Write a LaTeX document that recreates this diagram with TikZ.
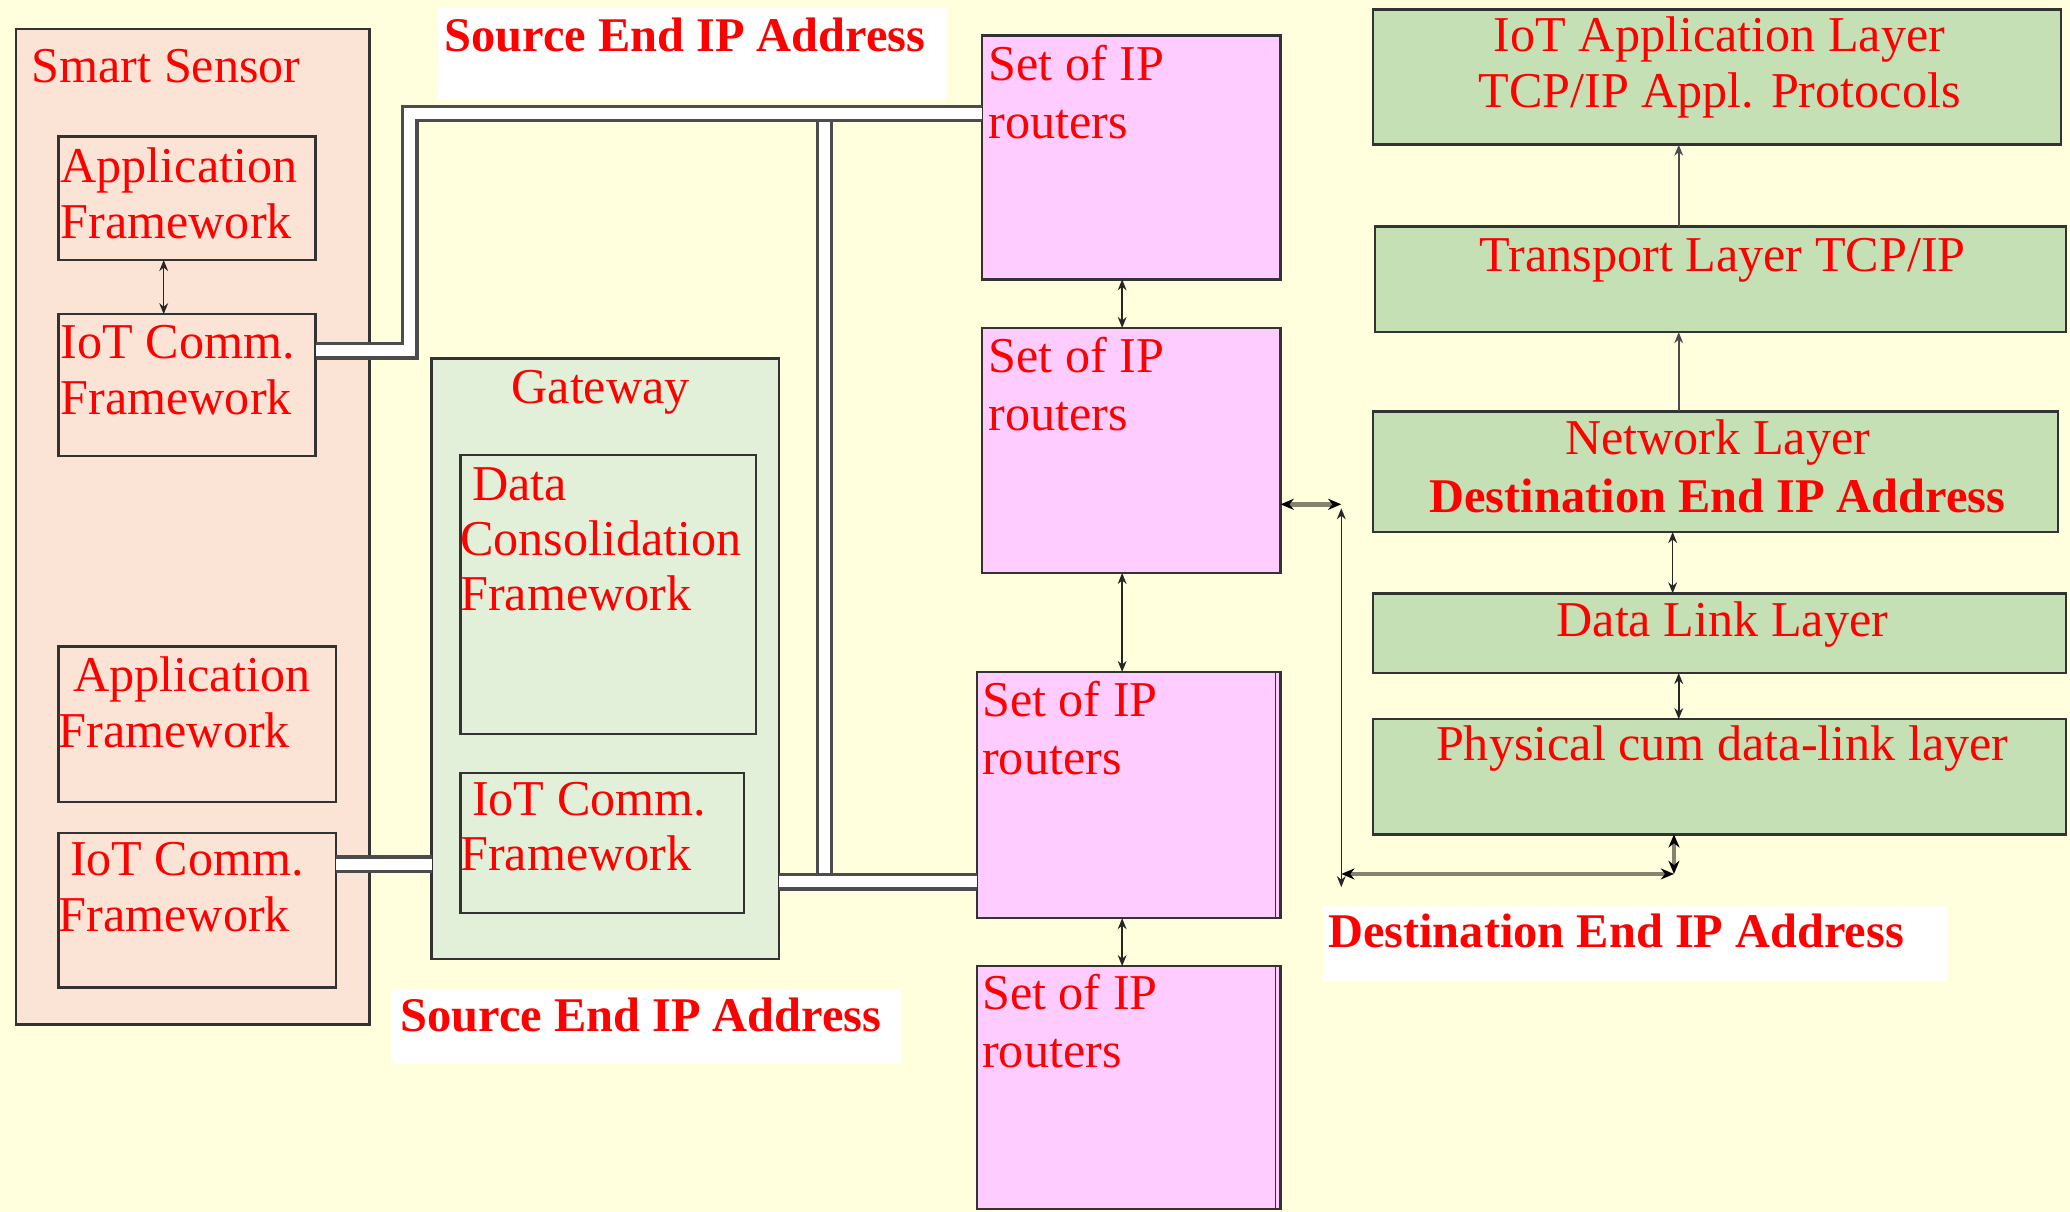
\documentclass[tikz,border=0pt]{standalone}
\usepackage{fontspec}
\setmainfont{Liberation Serif}
\usetikzlibrary{arrows.meta}
\definecolor{bgyel}{HTML}{FFFFDD}
\definecolor{peach}{HTML}{FBE4D5}
\definecolor{gwgreen}{HTML}{E2EFD9}
\definecolor{laygreen}{HTML}{C5E0B4}
\definecolor{pinkr}{HTML}{FFCCFF}
\definecolor{edgec}{HTML}{333333}
\definecolor{connc}{HTML}{84846E}
\newcommand\mkbox[6]{\node[#2, anchor=north west, minimum width={(#5-#3)*0.6pt}, minimum height={(#6-#4)*0.6pt}] (#1) at (#3,#4) {};}
\begin{document}
\begin{tikzpicture}[x=0.6pt, y=-0.6pt,
 box/.style={draw=edgec, line width=1.1pt, inner sep=0pt, outer sep=0pt},
 ssbox/.style={box, fill=peach},
 gwbox/.style={box, fill=gwgreen},
 rtbox/.style={box, fill=pinkr},
 lybox/.style={box, fill=laygreen},
 wbox/.style={fill=white, inner sep=0pt, outer sep=0pt},
 txt/.style={text=red, inner sep=0pt, outer sep=0pt, align=left, anchor=north west, font=\fontsize{22.8}{25.2}\selectfont},
 ctxt/.style={txt, align=center, anchor=north},
 btxt/.style={txt, font=\fontsize{22}{25.2}\selectfont\bfseries},
 pipe/.style={draw=black!70, line width=1.5pt, double=white, double distance=5pt},
 dar/.style={draw=black!85, line width=0.7pt, {Stealth[length=5pt,width=4pt]}-{Stealth[length=5pt,width=4pt]}},
 uar/.style={draw=black!70, line width=0.7pt, -{Stealth[length=5pt,width=4pt]}},
 gar/.style={draw=connc, line width=2pt, {Stealth[length=6pt,width=5pt,color=black]}-{Stealth[length=6pt,width=5pt,color=black]}},
]
\useasboundingbox (0,0) rectangle (1568,918);
\fill[bgyel] (0,0) rectangle (1568,918);

% boxes
\mkbox{ss}{ssbox}{12}{22}{280}{776}
\mkbox{app1}{ssbox}{44.4}{103.5}{239}{197}
\mkbox{iot1}{ssbox}{44.4}{238}{239}{345.4}
\mkbox{app2}{ssbox}{44.4}{489.6}{254.6}{607.7}
\mkbox{iot2}{ssbox}{44.4}{631}{254.6}{748}
\mkbox{gw}{gwbox}{327}{271.4}{590}{726.6}
\mkbox{dcf}{gwbox}{348.8}{344.7}{572.5}{556}
\mkbox{giot}{gwbox}{348.8}{585.4}{563.7}{691.4}
\mkbox{r1}{rtbox}{744}{27}{970}{211.6}
\mkbox{r2}{rtbox}{744}{248.4}{970}{434}
\mkbox{r3}{rtbox}{740}{509}{970}{695.5}
\mkbox{r4}{rtbox}{740}{731.8}{970}{916}
\mkbox{l1}{lybox}{1040}{7.3}{1561}{109.6}
\mkbox{l2}{lybox}{1041.6}{171.6}{1565}{251.6}
\mkbox{l3}{lybox}{1040}{311.6}{1559}{403}
\mkbox{l4}{lybox}{1040}{449.4}{1565}{509.8}
\mkbox{l5}{lybox}{1040}{544.7}{1565}{632}
\mkbox{w1}{wbox}{331.4}{6.3}{717}{76}
\mkbox{w2}{wbox}{296}{750}{682.7}{806}
\mkbox{w3}{wbox}{1002}{686.5}{1475}{744}
\draw[edgec, line width=0.6pt] ([xshift=-2.4pt]r3.north east) -- ([xshift=-2.4pt]r3.south east);
\draw[edgec, line width=0.6pt] ([xshift=-2.4pt]r4.north east) -- ([xshift=-2.4pt]r4.south east);

% coordinates
\coordinate (xa) at (124,0);
\coordinate (xr) at (850,0);
\coordinate (xl1) at (1271.6,0);
\coordinate (xl2) at (1267,0);
\coordinate (j1) at (1016,382);
\coordinate (j1b) at (1016,385);
\coordinate (j2) at (1016,662);
\coordinate (j2b) at (1016,672);
\coordinate (j3) at (1268,662);
\coordinate (p1) at (310.4,265.8);
\coordinate (p2) at (310.4,86);
\coordinate (p3) at (624.4,86);
\coordinate (p4) at (624.4,668);
\coordinate (p5) at (290,654.5);

% pipes
\draw[pipe] (p3) -- (p4);
\draw[pipe] (iot1.east |- p1) -- (p1) -- (p2) -- (r1.west |- p2);
\draw[pipe] (gw.east |- p4) -- (r3.west |- p4);
\draw[pipe] (iot2.east |- p5) -- (gw.west |- p5);

% arrows
\draw[dar] (app1.south -| xa) -- (iot1.north -| xa);
\draw[dar] (r1.south -| xr) -- (r2.north -| xr);
\draw[dar] (r2.south -| xr) -- (r3.north -| xr);
\draw[dar] (r3.south -| xr) -- (r4.north -| xr);
\draw[uar] (l2.north -| xl1) -- (l1.south -| xl1);
\draw[uar] (l3.north -| xl1) -- (l2.south -| xl1);
\draw[dar] (l3.south -| xl2) -- (l4.north -| xl2);
\draw[dar] (l4.south -| xl1) -- (l5.north -| xl1);
\draw[gar] (l5.south -| j3) -- (j3);
\draw[gar] (j3) -- (j2);
\draw[dar] (j1b) -- (j2b);
\draw[gar] (r2.east |- j1) -- (j1);

% texts
\node[txt] (t-ss) at (24,37.5) {Smart Sensor};
\node[txt] (t-app1) at (45.9,112) {Application\\Framework};
\node[txt] (t-iot1) at (45.9,246.5) {IoT Comm.\\Framework};
\node[ctxt] (t-gw) at (455,280.5) {Gateway};
\node[txt, font=\fontsize{22.8}{24.9}\selectfont] (t-dcf) at (348.6,354.5) {\hspace*{5.4pt}Data\\Consolidation\\Framework};
\node[txt] (t-app2) at (44.4,497.5) {\hspace*{6.7pt}Application\\Framework};
\node[txt] (t-iot2) at (44.4,638.3) {\hspace*{5.2pt}IoT Comm.\\Framework};
\node[txt] (t-giot) at (348.6,592.5) {\hspace*{5.4pt}IoT Comm.\\Framework};
\node[txt, font=\fontsize{22.8}{26.4}\selectfont] (t-r1) at (749,34) {Set of IP\\routers};
\node[txt, font=\fontsize{22.8}{26.4}\selectfont] (t-r2) at (749,255.5) {Set of IP\\routers};
\node[txt, font=\fontsize{22.8}{26.4}\selectfont] (t-r3) at (744,516) {Set of IP\\routers};
\node[txt, font=\fontsize{22.8}{26.4}\selectfont] (t-r4) at (744,738) {Set of IP\\routers};
\node[ctxt, font=\fontsize{22.8}{25.4}\selectfont] (t-l1) at (1302.5,13) {IoT Application Layer\\TCP/IP Appl. Protocols};
\node[ctxt] (t-l2) at (1305,180.3) {Transport Layer TCP/IP};
\node[ctxt, font=\fontsize{22.8}{26.1}\selectfont] (t-l3) at (1301,318) {Network Layer\\{\fontsize{22}{26.1}\selectfont\bfseries Destination End IP Address}};
\node[ctxt] (t-l4) at (1304.6,455.5) {Data Link Layer};
\node[ctxt] (t-l5) at (1304.6,550) {Physical cum data-link layer};
\node[btxt] (t-src1) at (336.7,13.5) {Source End IP Address};
\node[btxt] (t-src2) at (303.4,756) {Source End IP Address};
\node[btxt] (t-dst) at (1006,692) {Destination End IP Address};
\end{tikzpicture}
\end{document}
